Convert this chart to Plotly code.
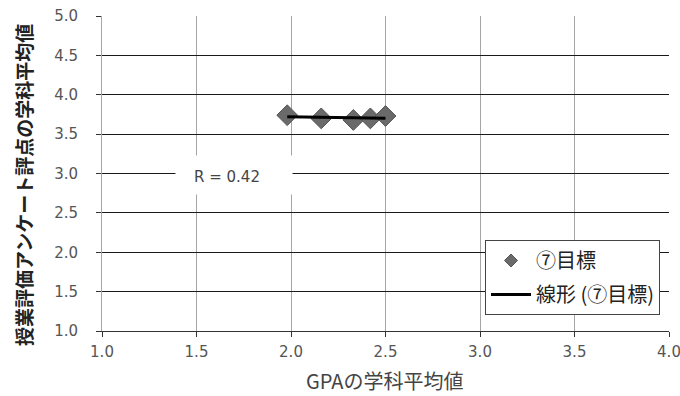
import numpy as np
import plotly.graph_objects as go

gpa = [1.98, 2.16, 2.33, 2.42, 2.50]
score = [3.74, 3.70, 3.68, 3.70, 3.73]
series_name = "⑦目標"
trend_name = "線形 (⑦目標)"
r_label = "R = 0.42"
x_title = "GPAの学科平均値"
y_title = "授業評価アンケート評点の学科平均値"
x_ticks = [1.0, 1.5, 2.0, 2.5, 3.0, 3.5, 4.0]
y_ticks = [1.0, 1.5, 2.0, 2.5, 3.0, 3.5, 4.0, 4.5, 5.0]

slope, intercept = np.polyfit(gpa, score, 1)
tx = [min(gpa), max(gpa)]
ty = [slope * v + intercept for v in tx]

W, H = 680, 396
ML, MR, MT, MB = 102, 11, 16, 65
PW, PH = W - ML - MR, H - MT - MB


def px_x(p):
    return (p - ML) / PW


def px_y(p):
    return (H - MB - p) / PH


font = "Noto Sans CJK JP"
numfont = "DejaVu Sans"
fig = go.Figure()

fig.add_trace(go.Scatter(x=gpa, y=score, mode="markers", name=series_name, showlegend=False,
                         marker=dict(symbol="diamond", size=16, color="#6a6a6a",
                                     line=dict(color="#555555", width=1))))
fig.add_trace(go.Scatter(x=[None], y=[None], mode="markers", name=series_name,
                         legendgroup="a",
                         marker=dict(symbol="diamond", size=10, color="#6a6a6a",
                                     line=dict(color="#555555", width=1))))
fig.add_trace(go.Scatter(x=tx, y=ty, mode="lines", name=trend_name, legendgroup="b",
                         line=dict(color="black", width=3)))

fig.update_layout(
    width=W, height=H,
    margin=dict(l=ML, r=MR, t=MT, b=MB, autoexpand=False),
    paper_bgcolor="white", plot_bgcolor="white",
    font=dict(family=font, color="#333333"),
    xaxis=dict(range=[1.0, 4.0], tickvals=x_ticks, ticktext=[f"{v:.1f}" for v in x_ticks],
               showgrid=True, gridcolor="#a6a6a6", gridwidth=1,
               showline=True, linecolor="#333333", linewidth=1,
               ticks="outside", ticklen=5, tickcolor="#333333",
               tickfont=dict(size=15, color="#555555", family=numfont),
               ticklabelstandoff=2, ticklabeloverflow="allow",
               zeroline=False, automargin=False),
    yaxis=dict(range=[1.0, 5.0], tickvals=y_ticks, ticktext=[f"{v:.1f}" for v in y_ticks],
               showgrid=True, gridcolor="#1a1a1a", gridwidth=1,
               showline=True, linecolor="#a6a6a6", linewidth=1,
               ticks="outside", ticklen=5, tickcolor="#333333",
               tickfont=dict(size=15, color="#555555", family=numfont),
               ticklabelstandoff=15, ticklabeloverflow="allow",
               zeroline=False, automargin=False),
    legend=dict(x=px_x(485), y=px_y(240), xanchor="left", yanchor="top",
                bgcolor="white", bordercolor="#444444", borderwidth=1,
                font=dict(size=20, color="#222222", family=font),
                traceorder="grouped", tracegroupgap=5,
                itemwidth=40),
    showlegend=True,
)

# white label box behind the R value (hides gridlines, like the reference)
fig.add_annotation(x=px_x(234), y=px_y(175), xref="paper", yref="paper", text="&nbsp;",
                   showarrow=False, xanchor="center", yanchor="middle",
                   width=116, height=38, bgcolor="white", borderpad=0)
fig.add_annotation(x=px_x(192), y=px_y(177), xref="paper", yref="paper", text=r_label,
                   showarrow=False, xanchor="left", yanchor="middle",
                   font=dict(size=15, color="#444444", family=numfont))

fig.add_annotation(x=px_x(384), y=px_y(381), xref="paper", yref="paper", text=x_title,
                   showarrow=False, xanchor="center", yanchor="middle",
                   font=dict(size=20, color="#444444", family=font))
fig.add_annotation(x=px_x(23), y=px_y(185), xref="paper", yref="paper",
                   text=f"<b>{y_title}</b>", textangle=-90,
                   showarrow=False, xanchor="center", yanchor="middle",
                   font=dict(size=19, color="#222222", family=font))

fig.write_html("out.html", config={"displayModeBar": False},
               post_script="document.body.style.margin='0';document.body.style.overflow='hidden';")
